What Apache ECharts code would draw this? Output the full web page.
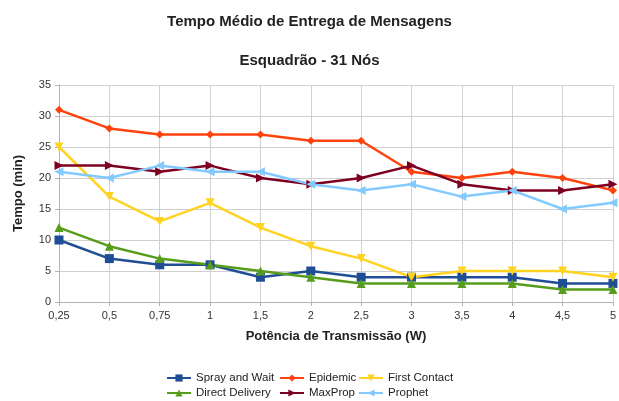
<!DOCTYPE html>
<html>
<head>
<meta charset="utf-8">
<script src="https://cdn.jsdelivr.net/npm/echarts@6/dist/echarts.min.js"></script>
<style>
  html, body { margin: 0; padding: 0; background: #fff; }
  #chart { width: 619px; height: 401px; }
</style>
</head>
<body>
<div id="chart"></div>
<script>
// potência de transmissão (W)
const categories = ['0,25', '0,5', '0,75', '1', '1,5', '2', '2,5', '3', '3,5', '4', '4,5', '5'];

// tempo médio (min)
const sprayAndWait = [10, 7, 6, 6, 4, 5, 4, 4, 4, 4, 3, 3];
const epidemic = [31, 28, 27, 27, 27, 26, 26, 21, 20, 21, 20, 18];
const firstContact = [25, 17, 13, 16, 12, 9, 7, 4, 5, 5, 5, 4];
const directDelivery = [12, 9, 7, 6, 5, 4, 3, 3, 3, 3, 2, 2];
const maxProp = [22, 22, 21, 22, 20, 19, 20, 22, 19, 18, 18, 19];
const prophet = [21, 20, 22, 21, 21, 19, 18, 19, 17, 18, 15, 16];

const chart = echarts.init(document.getElementById('chart'));

// cada série: nome, dados, cor, símbolo, rotação
function mkSeries(name, data, color, symbol, rotate, size) {
  return {
    name: name,
    type: 'line',
    data: data,
    symbol: symbol,
    symbolRotate: rotate,
    symbolSize: size,
    itemStyle: { color: color },
    lineStyle: { color: color, width: 2.5 },
    emphasis: { disabled: true }
  };
}

// uma legenda por item, para alinhar em colunas
function mkLegend(name, left, top) {
  return {
    data: [name],
    left: left,
    top: top,
    padding: 0,
    itemWidth: 24,
    itemHeight: 9,
    textStyle: { color: '#222', fontSize: 11.5, fontFamily: 'Liberation Sans' }
  };
}

const option = {
  animation: false,
  textStyle: { fontFamily: 'Liberation Sans' },
  title: [
    {
      text: 'Tempo Médio de Entrega de Mensagens',
      left: 'center',
      top: 9,
      textStyle: { fontSize: 15, fontWeight: 'bold', color: '#222' }
    },
    {
      text: 'Esquadrão - 31 Nós',
      left: 'center',
      top: 48,
      textStyle: { fontSize: 15, fontWeight: 'bold', color: '#222' }
    }
  ],
  legend: [
    mkLegend('Spray and Wait', 166, 372),
    mkLegend('Epidemic', 279, 372),
    mkLegend('First Contact', 358, 372),
    mkLegend('Direct Delivery', 166, 387),
    mkLegend('MaxProp', 279, 387),
    mkLegend('Prophet', 358, 387)
  ],
  grid: { left: 59, right: 4, top: 85, bottom: 99 },
  xAxis: {
    type: 'category',
    data: categories,
    boundaryGap: false,
    name: 'Potência de Transmissão (W)',
    nameLocation: 'middle',
    nameGap: 28,
    nameTextStyle: { fontSize: 13, fontWeight: 'bold', color: '#222' },
    axisLine: { lineStyle: { color: '#b3b3b3' } },
    axisTick: { show: true, length: 4, lineStyle: { color: '#b3b3b3' } },
    axisLabel: { color: '#333', fontSize: 11, margin: 8 },
    splitLine: { show: true, lineStyle: { color: '#d0d0d0' } }
  },
  yAxis: {
    type: 'value',
    min: 0,
    max: 35,
    interval: 5,
    name: 'Tempo (min)',
    nameLocation: 'middle',
    nameGap: 34,
    nameTextStyle: { fontSize: 13, fontWeight: 'bold', color: '#222' },
    axisLine: { show: true, lineStyle: { color: '#b3b3b3' } },
    axisTick: { show: true, length: 4, lineStyle: { color: '#b3b3b3' } },
    axisLabel: { color: '#333', fontSize: 11, margin: 8 },
    splitLine: { show: true, lineStyle: { color: '#d0d0d0' } }
  },
  series: [
    mkSeries('Spray and Wait', sprayAndWait, '#1f4e94', 'rect', 0, 9),
    mkSeries('Epidemic', epidemic, '#ff420e', 'diamond', 0, 8),
    mkSeries('First Contact', firstContact, '#ffd320', 'triangle', 180, 9),
    mkSeries('Direct Delivery', directDelivery, '#579d1c', 'triangle', 0, 9),
    mkSeries('MaxProp', maxProp, '#7e0021', 'triangle', -90, 9),
    mkSeries('Prophet', prophet, '#83caff', 'triangle', 90, 9)
  ]
};

chart.setOption(option);
</script>
</body>
</html>
